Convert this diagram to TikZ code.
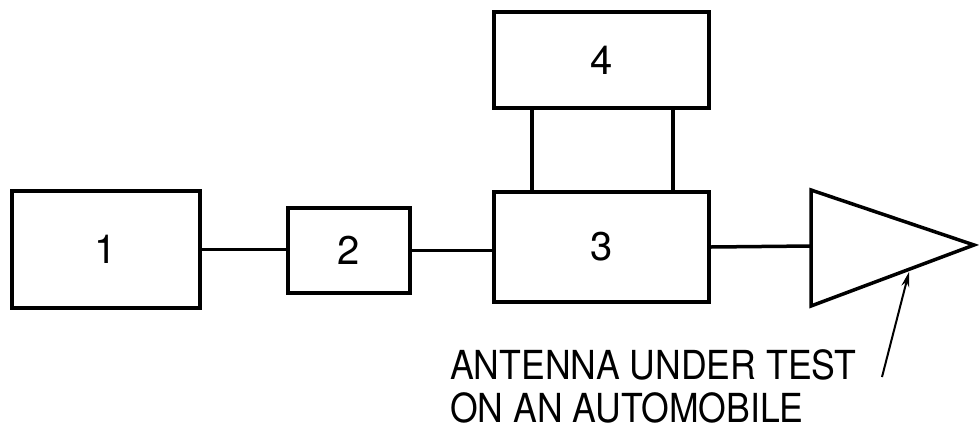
\documentclass[tikz,border=0pt]{standalone}
\usepackage{fontspec}
\newfontfamily\lbl{TeX Gyre Heros}
\usetikzlibrary{arrows.meta}
\begin{document}
\begin{tikzpicture}[x=1pt,y=-1pt,
  box/.style={draw, line width=3.5pt, inner sep=0pt, font=\lbl\fontsize{40}{44}\selectfont},
  wire/.style={line width=3.5pt},
  lbltext/.style={anchor=base west, inner sep=0pt, font=\lbl\fontsize{40}{44}\selectfont}]
\useasboundingbox (0,0) rectangle (979,429);
\node[box, minimum width=188pt, minimum height=117pt] (b1) at (106,249.5) {1};
\node[box, minimum width=122pt, minimum height=85pt] (b2) at (349,250.5) {2};
\node[box, minimum width=215pt, minimum height=110pt] (b3) at (601.5,247) {3};
\node[box, minimum width=215pt, minimum height=96pt] (b4) at (601.5,60) {4};
% antenna triangle
\coordinate (at1) at (811,190);
\coordinate (at2) at (811,306);
\coordinate (tip) at (974,245);
\coordinate (ain) at (811,246);
\draw[wire, line join=miter] (at1) -- (tip) -- (at2) -- cycle;
% connectors
\draw[wire] (b1.east) -- (b1.east -| b2.west);
\draw[wire] (b2.east) -- (b2.east -| b3.west);
\draw[wire] (b3.east) -- (ain);
\draw[wire] ([xshift=-69.5pt]b4.south) -- ([xshift=-69.5pt]b3.north);
\draw[wire] ([xshift=71.5pt]b4.south) -- ([xshift=71.5pt]b3.north);
% label
\node[lbltext] (t1) at (450,379) {\scalebox{0.89}[1]{ANTENNA UNDER TEST}};
\node[lbltext] (t2) at (450,422) {\scalebox{0.89}[1]{ON AN AUTOMOBILE}};
\coordinate (ptail) at (882,377);
\coordinate (phead) at (909,272);
\draw[line width=2pt, -{Stealth[length=15pt,width=8pt]}] (ptail) -- (phead);
\end{tikzpicture}
\end{document}
